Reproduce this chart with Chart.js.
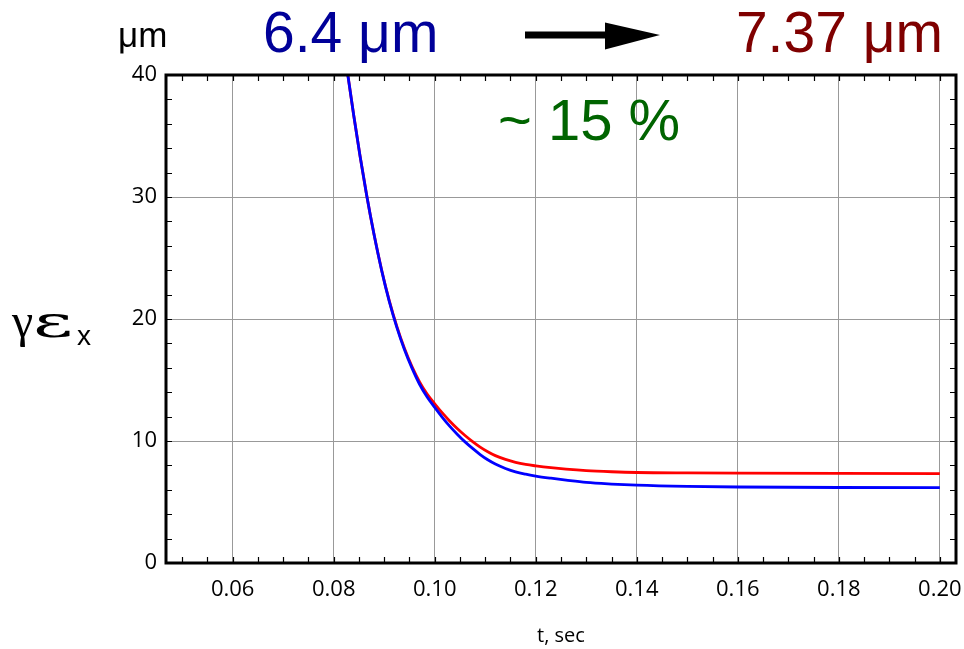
<!DOCTYPE html>
<html>
<head>
<meta charset="utf-8">
<script src="https://cdn.jsdelivr.net/npm/chart.js@4.4.1/dist/chart.umd.min.js"></script>
<style>
  body { margin: 0; background: #fff; }
  canvas { display: block; }
</style>
</head>
<body>
<canvas id="myChart" width="964" height="649"></canvas>
<script>
const ctx = document.getElementById('myChart');

// time, sec
const t_values = [0.0820, 0.0828, 0.0840, 0.0852, 0.0865, 0.0880, 0.0895, 0.0910, 0.0925, 0.0940,
                  0.0955, 0.0970, 0.0985, 0.1000, 0.1015, 0.1030, 0.1045, 0.1060, 0.1075, 0.1090,
                  0.1105, 0.1120, 0.1140, 0.1160, 0.1180, 0.1200, 0.1230, 0.1260, 0.1300, 0.1350,
                  0.1400, 0.1500, 0.1600, 0.1800, 0.2000];
// gamma*eps_x, um
const emit_blue = [42.3, 40.0, 36.6, 33.4, 30.2, 26.9, 23.97, 21.45, 19.32, 17.5,
                   15.97, 14.65, 13.6, 12.75, 11.94, 11.2, 10.54, 9.93, 9.39, 8.89,
                   8.46, 8.11, 7.75, 7.47, 7.28, 7.13, 6.95, 6.79, 6.60, 6.47,
                   6.38, 6.28, 6.23, 6.19, 6.18];
const emit_red = [42.3, 40.0, 36.6, 33.4, 30.2, 26.9, 24.0, 21.5, 19.4, 17.6,
                  16.1, 14.85, 13.85, 13.05, 12.3, 11.62, 11.0, 10.45, 9.95, 9.5,
                  9.12, 8.8, 8.49, 8.25, 8.08, 7.96, 7.81, 7.69, 7.57, 7.48,
                  7.42, 7.38, 7.36, 7.34, 7.33];

const x_ticks = [0.06, 0.08, 0.10, 0.12, 0.14, 0.16, 0.18, 0.20];
const y_ticks = [0, 10, 20, 30, 40];
const x_minor_step = 0.005;
const y_minor_step = 2;
const x_min = 0.0468, x_max = 0.2032;
const y_min = 0, y_max = 40;

const toPoints = (xs, ys) => xs.map((x, i) => ({x: x, y: ys[i]}));

const blue_dataset = {
    label: 'blue',
    data: toPoints(t_values, emit_blue),
    borderColor: '#0000ff',
    borderWidth: 2.8,
    pointRadius: 0,
    cubicInterpolationMode: 'monotone',
    clip: 0
}
const red_dataset = {
    label: 'red',
    data: toPoints(t_values, emit_red),
    borderColor: '#ff0000',
    borderWidth: 2.8,
    pointRadius: 0,
    cubicInterpolationMode: 'monotone',
    clip: 0
}

// frame, inward ticks and annotations
const framePlugin = {
    id: 'frame',
    afterDraw(chart) {
        const c = chart.ctx;
        const a = chart.chartArea;
        const xs = chart.scales.x, ys = chart.scales.y;
        c.save();
        c.strokeStyle = '#000';
        c.lineWidth = 1.2;
        c.beginPath();
        for (let i = Math.ceil(x_min / x_minor_step); i <= Math.floor(x_max / x_minor_step + 1e-6); i++) {
            const px = Math.round(xs.getPixelForValue(i * x_minor_step)) + 0.5;
            c.moveTo(px, a.bottom); c.lineTo(px, a.bottom - 6);
            c.moveTo(px, a.top); c.lineTo(px, a.top + 6);
        }
        for (let i = Math.ceil(y_min / y_minor_step); i <= Math.floor(y_max / y_minor_step); i++) {
            const py = Math.round(ys.getPixelForValue(i * y_minor_step)) + 0.5;
            c.moveTo(a.left, py); c.lineTo(a.left + 6, py);
            c.moveTo(a.right, py); c.lineTo(a.right - 6, py);
        }
        c.stroke();
        c.lineWidth = 3;
        c.strokeRect(a.left, a.top, a.right - a.left, a.bottom - a.top);

        // texts above the plot
        c.textBaseline = 'alphabetic';
        c.textAlign = 'left';
        c.fillStyle = '#000';
        c.font = '35px "Liberation Sans"';
        c.fillText('\u03bcm', 118, 47);
        c.fillStyle = '#000099';
        c.font = '57px "Liberation Sans"';
        c.fillText('6.4 \u03bcm', 263, 52);
        c.fillStyle = '#7f0000';
        c.textAlign = 'right';
        c.fillText('7.37 \u03bcm', 943, 52);
        c.textAlign = 'center';
        c.fillStyle = '#006400';
        c.font = '58px "Liberation Sans"';
        c.fillText('~ 15 %', 589, 140);

        // arrow
        c.fillStyle = '#000';
        c.fillRect(525, 31.5, 82, 7);
        c.beginPath();
        c.moveTo(605, 22.5); c.lineTo(660, 35); c.lineTo(605, 49.5);
        c.closePath(); c.fill();

        // y axis label
        c.textAlign = 'left';
        c.font = '48px "Liberation Serif"';
        c.fillText('\u03b3', 12, 337);
        c.font = '44px "DejaVu Serif"';
        const w = c.measureText('\u03b5').width;
        c.save();
        c.translate(33, 337);
        c.scale(40 / w, 1);
        c.fillText('\u03b5', 0, 0);
        c.restore();
        c.font = '28px "Liberation Sans"';
        c.fillText('x', 77, 345);
        c.restore();
    }
};

const myChart = new Chart(ctx, {
    type: 'line',
    data: { datasets: [blue_dataset, red_dataset] },
    plugins: [framePlugin],
    options: {
        responsive: false,
        animation: false,
        devicePixelRatio: 1,
        layout: { padding: { top: 75, right: 8, left: 0, bottom: 0 } },
        plugins: { legend: { display: false }, tooltip: { enabled: false } },
        scales: {
            x: {
                type: 'linear',
                min: x_min,
                max: x_max,
                afterBuildTicks: s => { s.ticks = x_ticks.map(v => ({value: v})); },
                afterFit: s => { s.height = 86; s.paddingLeft = 0; s.paddingRight = 0; },
                grid: { color: '#999', lineWidth: 1, drawTicks: false },
                border: { display: false },
                ticks: {
                    padding: 14,
                    color: '#000',
                    font: { family: '"Open Sans"', size: 22 },
                    maxRotation: 0,
                    callback: v => v.toFixed(2)
                },
                title: {
                    display: true,
                    text: 't, sec',
                    color: '#000',
                    font: { family: '"Open Sans"', size: 20 },
                    padding: { top: 0, bottom: 1 }
                }
            },
            y: {
                min: y_min,
                max: y_max,
                afterBuildTicks: s => { s.ticks = y_ticks.map(v => ({value: v})); },
                afterFit: s => { s.width = 166; s.paddingTop = 0; s.paddingBottom = 0; },
                grid: { color: '#999', lineWidth: 1, drawTicks: false },
                border: { display: false },
                ticks: {
                    padding: 9,
                    color: '#000',
                    font: { family: '"Open Sans"', size: 22 }
                }
            }
        }
    }
});
</script>
</body>
</html>
